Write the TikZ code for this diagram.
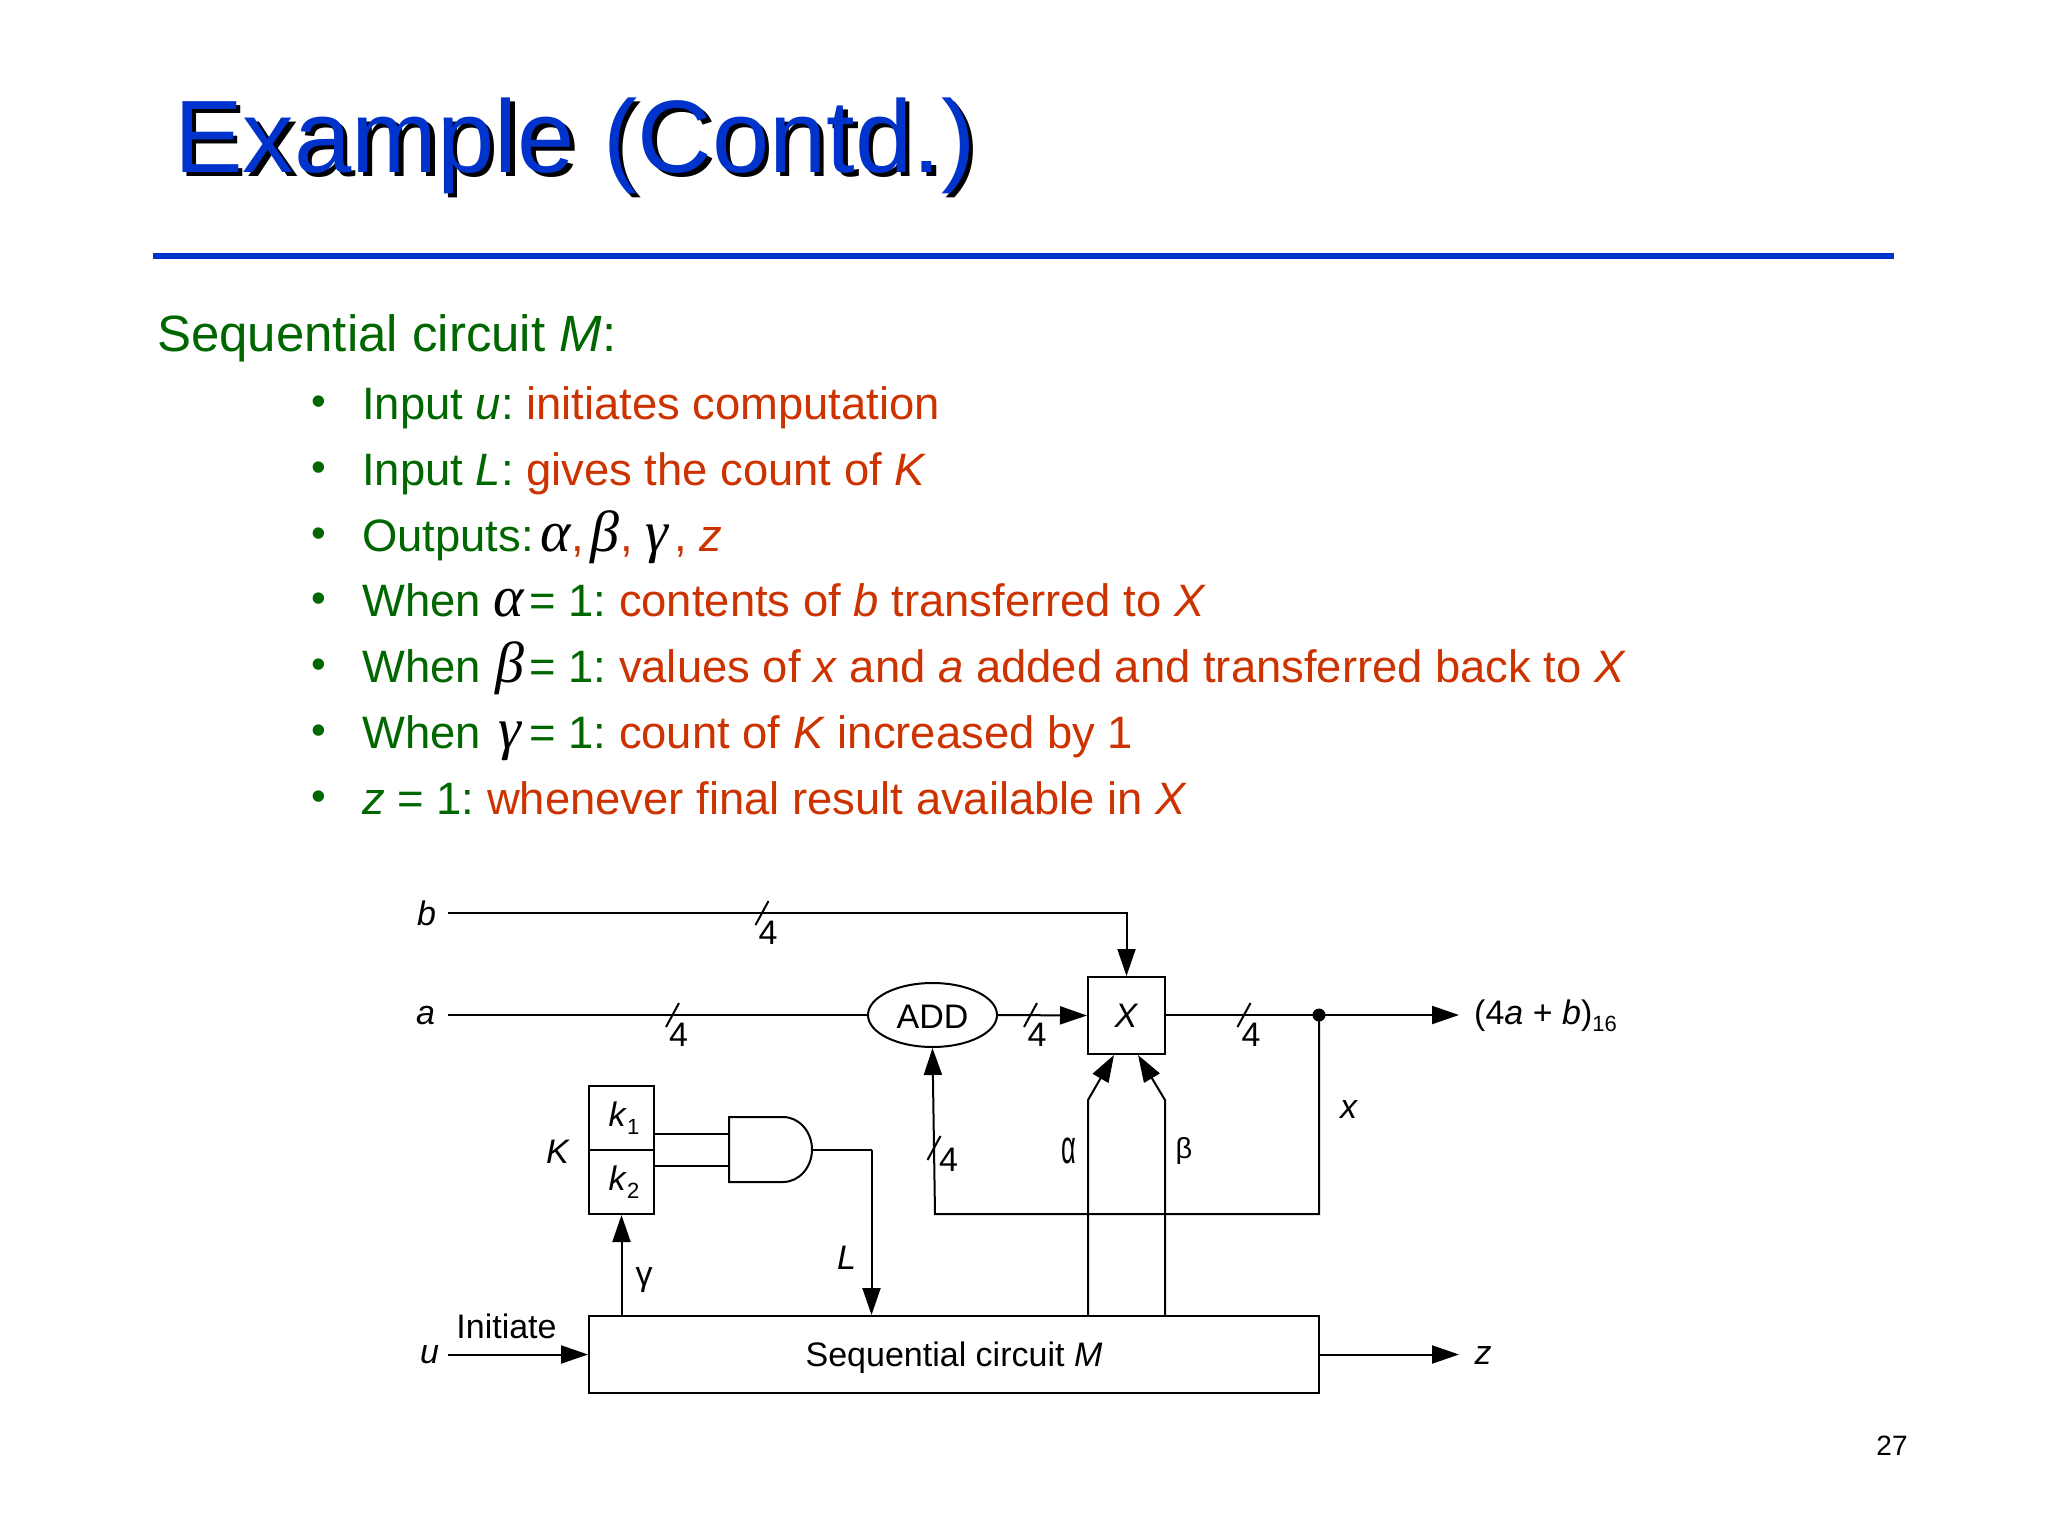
\documentclass[tikz,border=0pt]{standalone}
\usepackage{fontspec}
\setmainfont{Liberation Sans}
\newfontfamily\grkfont{Liberation Serif}
\usetikzlibrary{arrows.meta,shapes.geometric}
\definecolor{slideblue}{HTML}{0033CC}
\definecolor{slidegreen}{HTML}{006600}
\definecolor{slidered}{HTML}{CC3300}
\frenchspacing
\newcommand{\fsz}[1]{\fontsize{#1}{#1}\selectfont}
\newcommand{\rd}[1]{\textcolor{slidered}{#1}}
\newcommand{\grk}[3]{\hspace*{#2pt}\makebox[#3pt][l]{\textcolor{black}{\fsz{58}\grkfont\itshape #1}}}
\newcommand{\sbs}[1]{\raisebox{-0.22em}{\fsz{22}#1}}
\tikzset{
    bodytxt/.style={anchor=base west, inner sep=0pt, text=slidegreen, font=\fsz{45.4}},
    bullet/.style={anchor=base west, inner sep=0pt, text=slidegreen, font=\fsz{42}},
    lab/.style={inner sep=0pt, font=\fsz{34}},
    box/.style={draw, inner sep=0pt, line width=2pt, font=\fsz{34}},
    wire/.style={line width=2pt},
    arr/.style={line width=2pt, -{Triangle[length=27pt,width=18pt]}},
    tick/.style={line width=2pt},
}
\begin{document}
\begin{tikzpicture}[x=1pt,y=-1pt]
    \useasboundingbox (0,0) rectangle (2048,1536);

    % title
    \node[anchor=base west, inner sep=0pt, text=black, font=\fsz{103}] (titleshadow) at (178.5,176) {Example (Contd.)};
    \node[anchor=base west, inner sep=0pt, text=slideblue, font=\fsz{103}] (title) at (174,172) {Example (Contd.)};
    \draw[slideblue, line width=6pt] (153,255.5) -- (1894,255.5);

    % text
    \node[bodytxt, font=\fsz{51}] (head) at (157,351) {Sequential circuit \textit{M}:};
    \node[bullet] (bu1) at (311,415) {•};
    \node[bullet] (bu2) at (311,481) {•};
    \node[bullet] (bu3) at (311,547) {•};
    \node[bullet] (bu4) at (311,612.5) {•};
    \node[bullet] (bu5) at (311,678.5) {•};
    \node[bullet] (bu6) at (311,744.5) {•};
    \node[bullet] (bu7) at (311,810.5) {•};
    \node[bodytxt] (li1) at (362,419) {Input \textit{u}: \rd{initiates computation}};
    \node[bodytxt] (li2) at (362,485) {Input \textit{L}: \rd{gives the count of \textit{K}}};
    \node[bodytxt] (li3) at (362,551) {Outputs:\grk{α}{7}{31}\rd{,}\grk{β}{6}{30}\rd{, }\grk{γ}{0}{29}\rd{, \textit{z}}};
    \node[bodytxt] (li4) at (362,616.5) {When \grk{α}{0}{36}= 1: \rd{contents of \textit{b} transferred to \textit{X}}};
    \node[bodytxt] (li5) at (362,682.5) {When \grk{β}{2}{34}= 1: \rd{values of \textit{x} and \textit{a} added and transferred back to \textit{X}}};
    \node[bodytxt] (li6) at (362,748.5) {When \grk{γ}{5}{31}= 1: \rd{count of \textit{K} increased by 1}};
    \node[bodytxt] (li7) at (362,814.5) {\textit{z} = 1: \rd{whenever final result available in \textit{X}}};

    % blocks
    \node[box, minimum width=77pt, minimum height=77pt] (xbox) at (1126.5,1015.5) {\textit{X}};
    \node[box, ellipse, minimum width=129pt, minimum height=64pt] (add) at (932.5,1015) {\raisebox{-13pt}[0pt][0pt]{ADD}};
    \node[box, minimum width=65pt, minimum height=64pt] (kone) at (621.5,1118) {\hspace*{5pt}\textit{k}\sbs{1}};
    \node[box, minimum width=65pt, minimum height=64pt] (ktwo) at (621.5,1182) {\hspace*{5pt}\textit{k}\sbs{2}};
    \node[box, minimum width=730pt, minimum height=77pt] (seq) at (954,1354.5) {\raisebox{-12pt}[0pt][0pt]{Sequential circuit \textit{M}}};
    \draw[wire] (729,1117) -- (783,1117) arc[start angle=-90, end angle=90, x radius=29, y radius=32.5] -- (729,1182) -- cycle;
    \fill (1319,1015) circle (6.5pt);

    \coordinate (bin) at (447.5,913);
    \coordinate (ain) at (447.5,1015);
    \coordinate (uin) at (447.5,1354.5);
    \coordinate (dot) at (1319,1015);
    \coordinate (res) at (1459,1015);
    \coordinate (zout) at (1459,1354.5);
    \coordinate (fbc) at (1319,1214);
    \coordinate (fbl) at (935,1214);
    \coordinate (abend) at (1088,1100);
    \coordinate (atip) at (1114,1055);
    \coordinate (bbend) at (1165,1100);
    \coordinate (btip) at (1138,1055);
    \coordinate (andup) at (729,1134);
    \coordinate (anddn) at (729,1166);
    \coordinate (andout) at (812,1150);
    \coordinate (lcol) at (871.5,1150);

    % connectors
    \draw[arr] (bin) -| (xbox.north);
    \draw[wire] (ain) -- (add.west);
    \draw[arr] (add.east) -- (xbox.west);
    \draw[wire] (xbox.east |- dot) -- (dot);
    \draw[arr] (dot) -- (res);
    \draw[arr] (dot) -- (fbc) -- (fbl) -- (add.south);
    \draw[arr] (seq.north -| abend) -- (abend) -- (atip);
    \draw[arr] (seq.north -| bbend) -- (bbend) -- (btip);
    \draw[arr] (seq.north -| ktwo.south) -- (ktwo.south);
    \draw[wire] (andup -| kone.east) -- (andup);
    \draw[wire] (anddn -| ktwo.east) -- (anddn);
    \draw[wire] (andout) -- (lcol);
    \draw[arr] (lcol) -- (seq.north -| lcol);
    \draw[arr] (uin) -- (seq.west);
    \draw[arr] (seq.east) -- (zout);

    % bus ticks
    \draw[tick] (762,913) ++(-6.5,12) -- ++(13,-24);
    \draw[tick] (672.5,1015) ++(-6.5,12) -- ++(13,-24);
    \draw[tick] (1030.5,1015) ++(-6.5,12) -- ++(13,-24);
    \draw[tick] (1244,1015) ++(-6.5,12) -- ++(13,-24);
    \draw[tick] (934,1148) ++(-6.5,12) -- ++(13,-24);

    % labels
    \node[lab] (fourb) at (768,933) {4};
    \node[lab] (foura) at (678.5,1035) {4};
    \node[lab] (fouradd) at (1037,1035) {4};
    \node[lab] (fourx) at (1251,1035) {4};
    \node[lab] (fourfb) at (948.5,1160) {4};
    \node[lab] (labb) at (426.5,913) {\textit{b}};
    \node[lab] (laba) at (425.5,1016) {\textit{a}};
    \node[lab] (labu) at (429.5,1355) {\textit{u}};
    \node[lab] (labinit) at (506.5,1326) {Initiate};
    \node[lab] (labk) at (558,1152) {\textit{K}};
    \node[lab] (labl) at (846.5,1258) {\textit{L}};
    \node[lab] (labg) at (644,1280) {γ};
    \node[lab] (labal) at (1069,1151) {\scalebox{.75}[1.4]{α}};
    \node[lab, font=\fsz{29}] (labbe) at (1184,1151) {β};
    \node[lab] (labx) at (1349,1110) {\textit{x}};
    \node[lab] (labz) at (1483,1356) {\textit{z}};
    \node[lab, anchor=west] (labres) at (1474,1016) {(4\textit{a} + \textit{b})\sbs{16}};
    \node[lab, font=\fsz{28}] (pgnum) at (1892,1446) {27};
\end{tikzpicture}
\end{document}
